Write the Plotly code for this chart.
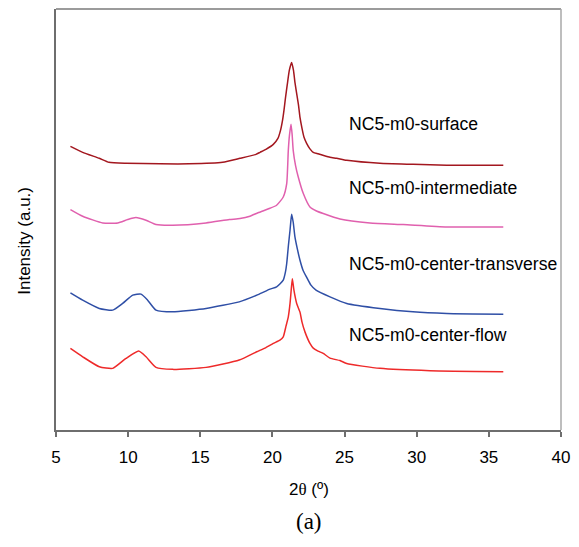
import plotly.graph_objects as go

# 2-theta (deg) and intensity (a.u., arbitrary offset scale)
surf_x = [6.0, 6.85, 8.0, 8.67, 9.85, 12.21, 14.22, 16.55, 17.75, 18.86, 19.14, 19.55, 20.06, 20.38, 20.56,
          20.70, 20.80, 20.90, 21.03, 21.17, 21.33, 21.46, 21.56, 21.70, 21.81, 21.91, 22.05, 22.19, 22.37, 22.60,
          22.83, 23.16, 23.50, 23.99, 24.45, 25.15, 27.45, 29.74, 32.08, 36.0]
surf_y = [284, 278, 272, 268, 267, 266.5, 266.5, 268, 272, 276, 278, 281, 286, 292, 300,
          310, 320, 332, 346, 360, 368, 360, 348, 335, 325, 313, 302, 293, 287, 281.5,
          278, 276.5, 275, 273, 272, 270, 267, 266, 265, 265]

inter_x = [6.0, 6.85, 8.24, 9.28, 9.97, 10.54, 11.24, 11.93, 13.09, 15.40, 17.01, 17.75, 18.44, 19.0, 19.83,
           20.29, 20.75, 20.99, 21.10, 21.18, 21.29, 21.37, 21.44, 21.60, 21.79, 22.14, 22.60, 23.02, 23.52, 24.68,
           26.76, 29.07, 32.08, 36.0]
inter_y = [220.7, 214, 207.3, 207.3, 210.7, 212.7, 210, 205.7, 205, 207.3, 210.7, 211.7, 214, 217.5, 222,
           225, 233.3, 246.7, 280, 295, 306, 295, 280, 265, 253.3, 236.7, 223.3, 219.5, 216.7, 211.2,
           207.3, 205.7, 203.3, 203.3]

trans_x = [6.0, 6.85, 8.0, 8.93, 9.62, 10.32, 10.89, 11.35, 11.93, 13.09, 15.40, 17.70, 19.0, 19.83, 20.29,
           20.75, 20.90, 20.99, 21.11, 21.22, 21.33, 21.44, 21.56, 21.73, 21.91, 22.12, 22.37, 22.67, 23.02, 23.99,
           25.15, 27.45, 29.74, 32.08, 36.0]
trans_y = [137.3, 130, 121.7, 120, 126.7, 135, 136, 130, 120, 118.3, 121.7, 128.3, 135.5, 141, 143.3,
           150, 158, 166.7, 185, 200, 216, 208, 193.3, 181, 170, 160, 153, 145, 140, 133.3,
           126.7, 121.7, 118.3, 116.7, 116]

flow_x = [6.0, 6.85, 8.0, 8.93, 9.85, 10.73, 11.24, 11.93, 13.09, 15.40, 17.70, 18.91, 19.48, 20.06, 20.52,
          20.75, 20.94, 21.10, 21.22, 21.30, 21.38, 21.49, 21.68, 21.91, 22.05, 22.26, 22.60, 22.83, 23.16, 23.52,
          23.99, 24.68, 25.15, 27.45, 30.92, 36.0]
flow_y = [81.7, 73.3, 63.3, 61.7, 71.7, 79, 73.3, 62.7, 60.7, 62.7, 70, 78.3, 82, 86.7, 90,
          93.3, 104, 113.3, 126.7, 140, 151.5, 140, 126.7, 118, 108, 98, 86.7, 82, 79, 76.7,
          72, 69.5, 66.5, 61.7, 59.3, 58.3]

names = ["NC5-m0-surface", "NC5-m0-intermediate", "NC5-m0-center-transverse", "NC5-m0-center-flow"]
label_y = [306, 242, 166, 95]
colors = ["#A3171F", "#E060AE", "#2F4FA6", "#EE2A2A"]
xs = [surf_x, inter_x, trans_x, flow_x]
ys = [surf_y, inter_y, trans_y, flow_y]

x_ticks = [5, 10, 15, 20, 25, 30, 35, 40]

fig = go.Figure()
for x, y, c, n in zip(xs, ys, colors, names):
    fig.add_trace(go.Scatter(x=x, y=y, mode="lines", name=n,
                             line=dict(color=c, width=1.5, shape="spline", smoothing=0.5)))

font = "Liberation Sans, Arial, sans-serif"
for n, ly in zip(names, label_y):
    fig.add_annotation(x=25.2, y=ly, xref="x", yref="y", text=n, showarrow=False, xanchor="left",
                       yanchor="middle", font=dict(family=font, size=17.6, color="black"))

fig.add_annotation(x=-0.063, y=0.45, xref="paper", yref="paper", text="Intensity (a.u.)", textangle=-90,
                   showarrow=False, xanchor="center", yanchor="middle",
                   font=dict(family=font, size=17, color="black"))
fig.add_annotation(x=0.5, y=-0.142, xref="paper", yref="paper",
                   text="2<span style='font-family:Liberation Serif'>θ</span> (º)",
                   showarrow=False, xanchor="center", yanchor="middle",
                   font=dict(family=font, size=17, color="black"))
fig.add_annotation(x=0.5, y=-0.218, xref="paper", yref="paper", text="(a)",
                   showarrow=False, xanchor="center", yanchor="middle",
                   font=dict(family="Liberation Serif, Times New Roman, serif", size=23, color="black"))

# lighter top and right frame
fig.add_shape(type="line", xref="paper", yref="paper", x0=0, x1=1, y0=1, y1=1,
              line=dict(color="#7a7a7a", width=1.5))
fig.add_shape(type="line", xref="paper", yref="paper", x0=1, x1=1, y0=0, y1=1,
              line=dict(color="#a8a8a8", width=1.5))

fig.update_layout(
    width=579, height=547,
    margin=dict(l=56, r=18, t=9, b=117),
    plot_bgcolor="white", paper_bgcolor="white",
    showlegend=False,
    xaxis=dict(range=[5, 40], tickvals=x_ticks, ticktext=[str(v) for v in x_ticks],
               ticks="outside", ticklen=5, tickwidth=1.5, tickcolor="#6e6e6e",
               showline=True, linecolor="#6e6e6e", linewidth=2, showgrid=False, zeroline=False,
               ticklabelstandoff=6,
               tickfont=dict(family=font, size=17, color="black")),
    yaxis=dict(range=[0, 421.5], showticklabels=False, ticks="", showline=True, linecolor="#6e6e6e",
               linewidth=2, showgrid=False, zeroline=False),
)

fig.write_html("out.html")
